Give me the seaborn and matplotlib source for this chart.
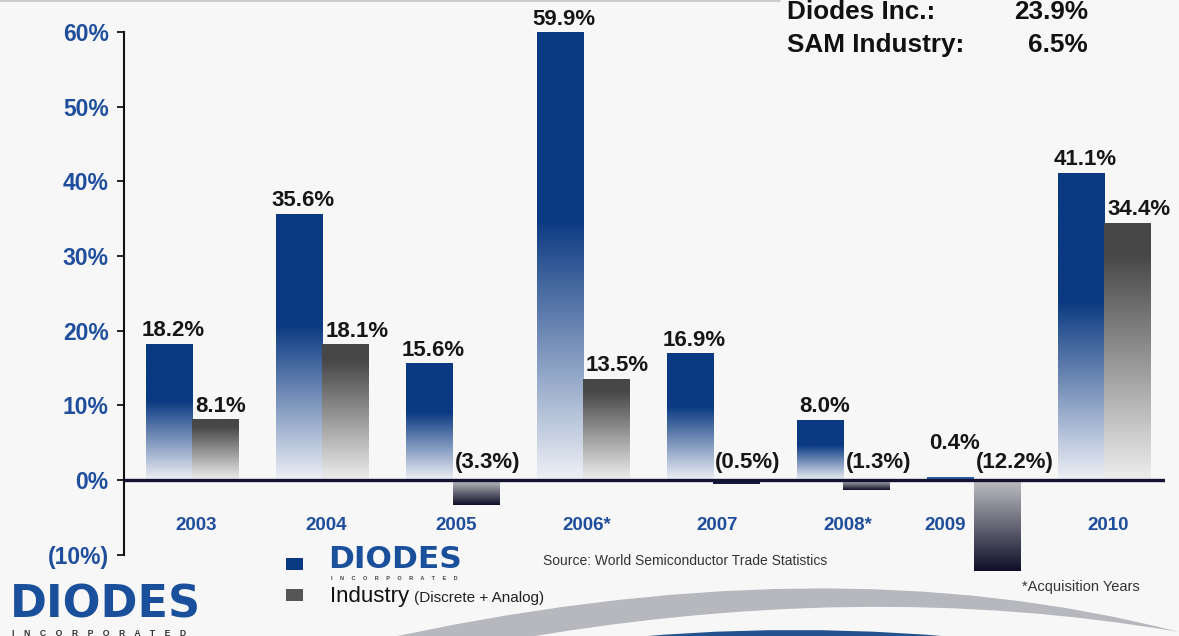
import numpy as np
import pandas as pd
import matplotlib
matplotlib.use("Agg")
import matplotlib.pyplot as plt
import matplotlib.transforms as mtrans
from matplotlib.path import Path
from matplotlib.patches import PathPatch, Rectangle
from matplotlib.colors import to_rgb
import seaborn as sns

# ---------------- data ----------------
years = ["2003", "2004", "2005", "2006*", "2007", "2008*", "2009", "2010"]
diodes_growth = [18.2, 35.6, 15.6, 59.9, 16.9, 8.0, 0.4, 41.1]
industry_growth = [8.1, 18.1, -3.3, 13.5, -0.5, -1.3, -12.2, 34.4]
series_names = ["Diodes", "Industry"]
y_ticks = [-10, 0, 10, 20, 30, 40, 50, 60]
summary_labels = ["Diodes Inc.:", "SAM Industry:"]
summary_values = ["23.9%", "6.5%"]

df = pd.DataFrame({
    "year": years * 2,
    "growth": diodes_growth + industry_growth,
    "series": [series_names[0]] * len(years) + [series_names[1]] * len(years),
})

# ---------------- style ----------------
sns.set_style("white")
plt.rcParams["font.family"] = ["Liberation Sans", "DejaVu Sans"]

W, H = 1179, 636
BG = "#f7f7f7"
NAVY = "#0b3a82"
BLUE_TXT = "#1f4e9c"
GRAY = "#484848"

YMIN, YMAX = -12.8, 60
PX_PER_UNIT = (480 - 32) / 60
AX_BOTTOM_PX = 480 + (-YMIN) * PX_PER_UNIT

fig = plt.figure(figsize=(W / 100, H / 100), dpi=100, facecolor=BG)
ax = fig.add_axes([124 / W, 1 - AX_BOTTOM_PX / H, (1165 - 124) / W, (AX_BOTTOM_PX - 32) / H])
ax.set_facecolor(BG)

sns.barplot(data=df, x="year", y="growth", hue="series", order=years,
            hue_order=series_names, width=0.71, gap=0, dodge=True,
            legend=False, ax=ax, palette=[NAVY, GRAY], saturation=1,
            errorbar=None)


def gradient(top, bottom, hold, n=256):
    t = np.linspace(0, 1, n)
    s = np.clip((t - hold) / (1 - hold), 0, 1)
    a, b = np.array(to_rgb(top)), np.array(to_rgb(bottom))
    cols = (1 - s)[:, None] * a + s[:, None] * b
    return cols[:, None, :]


centers = {}
lefts = {}
for p in list(ax.patches):
    x0, w = p.get_x(), p.get_width()
    y0, h = p.get_y(), p.get_height()
    if w <= 0:
        continue
    xc = x0 + w / 2
    i = int(round(xc))
    k = 0 if xc < i else 1
    centers[(i, k)] = xc
    lefts[(i, k)] = x0
    top, bot = max(y0, y0 + h), min(y0, y0 + h)
    val = h
    if abs(val) < 1:
        col = "#2a5ea8" if k == 0 else "#1a1a40"
        img = gradient(col, col, 0.0)
    elif val > 0 and k == 0:
        img = gradient(NAVY, "#eef0f6", 0.42)
    elif val > 0:
        img = gradient("#474747", "#eeeeee", 0.12)
    else:
        img = gradient("#c0c0c4", "#0e0e28", 0.0)
    ax.imshow(img, extent=[x0, x0 + w, bot, top], aspect="auto",
              origin="upper", zorder=2, interpolation="bilinear")
    p.set_visible(False)

ax.set_xlim(-0.522, 7.468)
ax.set_ylim(YMIN, YMAX)

# zero line
ax.axhline(0, color="#141432", lw=2.4, zorder=4)

# spines / ticks
for s in ["top", "right", "bottom"]:
    ax.spines[s].set_visible(False)
ax.spines["left"].set_color("#111111")
ax.spines["left"].set_linewidth(1.5)
ax.spines["left"].set_bounds(y_ticks[0], y_ticks[-1])
ax.set_yticks(y_ticks)
ax.set_yticklabels([f"{v}%" if v >= 0 else f"({-v}%)" for v in y_ticks],
                   fontsize=16.5, fontweight="bold", color=BLUE_TXT)
ax.tick_params(axis="y", direction="out", length=5, width=1.3,
               color="#111111", pad=6, left=True)
ax.set_xticks([])
ax.set_xlabel("")
ax.set_ylabel("")
ax.grid(False)

# value labels
for i in range(len(years)):
    for k, vals in enumerate([diodes_growth, industry_growth]):
        v = vals[i]
        if v >= 0:
            dy = 8 if v >= 2 else 28
            if k == 0:
                tr = mtrans.offset_copy(ax.transData, fig=fig, x=4, y=dy, units="dots")
                ax.text(centers[(i, k)], v, f"{v:.1f}%", transform=tr,
                        ha="center", va="baseline", fontsize=16,
                        fontweight="bold", color="#161616", zorder=5)
            else:
                tr = mtrans.offset_copy(ax.transData, fig=fig, x=3, y=dy, units="dots")
                ax.text(lefts[(i, k)], v, f"{v:.1f}%", transform=tr,
                        ha="left", va="baseline", fontsize=16,
                        fontweight="bold", color="#161616", zorder=5)
        else:
            tr = mtrans.offset_copy(ax.transData, fig=fig, x=2, y=12, units="dots")
            ax.text(lefts[(i, k)], 0, f"({-v:.1f}%)", transform=tr,
                    ha="left", va="baseline", fontsize=16,
                    fontweight="bold", color="#161616", zorder=5)

# year labels
year_y = (480 - 526) / PX_PER_UNIT
for i, yr in enumerate(years):
    if industry_growth[i] > -5:
        tr = mtrans.offset_copy(ax.transData, fig=fig, x=4, y=0, units="dots")
        ax.text(i, year_y, yr, transform=tr, ha="center", va="center",
                fontsize=13.5, fontweight="bold", color=BLUE_TXT)
    else:
        tr = mtrans.offset_copy(ax.transData, fig=fig, x=-8, y=0, units="dots")
        ax.text(lefts[(i, 1)], year_y, yr, transform=tr, ha="right", va="center",
                fontsize=13.5, fontweight="bold", color=BLUE_TXT)

# ---------------- figure decorations ----------------
ff = fig.transFigure


def fx(px):
    return px / W


def fy(py):
    return 1 - py / H


# thin frame line at top
fig.add_artist(plt.Line2D([0, fx(780)], [fy(1), fy(1)], color="#c4c4c4", lw=1.2, transform=ff))

# summary text
for j, (lab, val) in enumerate(zip(summary_labels, summary_values)):
    yb = fy(19 + 33 * j)
    fig.text(fx(787), yb, lab, ha="left", va="baseline", fontsize=18.8,
             fontweight="bold", color="#111111")
    fig.text(fx(1088), yb, val, ha="right", va="baseline", fontsize=18.8,
             fontweight="bold", color="#111111")

# swoosh
verts = [(370, 642), (825, 540), (1179, 632), (860, 577), (500, 642), (370, 642)]
codes = [Path.MOVETO, Path.CURVE3, Path.CURVE3, Path.CURVE3, Path.CURVE3, Path.CLOSEPOLY]
swoosh = Path([(fx(a), fy(b)) for a, b in verts], codes)
fig.add_artist(PathPatch(swoosh, facecolor="#b6b8be", edgecolor="none", transform=ff, zorder=1))
verts2 = [(585, 642), (795, 618), (1005, 642), (585, 642)]
codes2 = [Path.MOVETO, Path.CURVE3, Path.CURVE3, Path.CLOSEPOLY]
arc = Path([(fx(a), fy(b)) for a, b in verts2], codes2)
fig.add_artist(PathPatch(arc, facecolor="#23528f", edgecolor="none", transform=ff, zorder=1))

# bottom-left logo
fig.text(fx(10), fy(618), "DIODES", ha="left", va="baseline", fontsize=32,
         fontweight="heavy", family=["DejaVu Sans"], color="#1a4f9c")
fig.add_artist(plt.Line2D([fx(10), fx(210)], [fy(602), fy(602)], color=BG, lw=1.6, transform=ff))
fig.text(fx(12), fy(636), "    ".join("INCORPORATED"), ha="left", va="baseline",
         fontsize=6.2, fontweight="bold", color="#333333")

# legend
fig.add_artist(Rectangle((fx(286), fy(570)), fx(17), 12 / H, facecolor=NAVY,
                         edgecolor="none", transform=ff))
fig.add_artist(Rectangle((fx(286), fy(601)), fx(17), 12 / H, facecolor="#555555",
                         edgecolor="none", transform=ff))
fig.text(fx(328), fy(567.5), "DIODES", ha="left", va="baseline", fontsize=22.5,
         fontweight="heavy", family=["DejaVu Sans"], color="#1a4f9c")
fig.add_artist(plt.Line2D([fx(326), fx(490)], [fy(557), fy(557)], color=BG, lw=1.3, transform=ff))
fig.text(fx(331), fy(580.5), "     ".join("INCORPORATED"), ha="left", va="baseline",
         fontsize=4, fontweight="bold", color="#444444")
fig.text(fx(330), fy(602), "Industry", ha="left", va="baseline",
         fontsize=16, color="#111111", zorder=5)
fig.text(fx(414), fy(602), "(Discrete + Analog)", ha="left", va="baseline",
         fontsize=11, color="#222222", zorder=5)

# notes
fig.text(fx(543), fy(561), "Source: World Semiconductor Trade Statistics",
         ha="left", va="center", fontsize=10, color="#333333")
fig.text(fx(1022), fy(587), "*Acquisition Years", ha="left", va="center",
         fontsize=10.5, color="#333333")

fig.savefig("out.png", dpi=100, facecolor=BG)
